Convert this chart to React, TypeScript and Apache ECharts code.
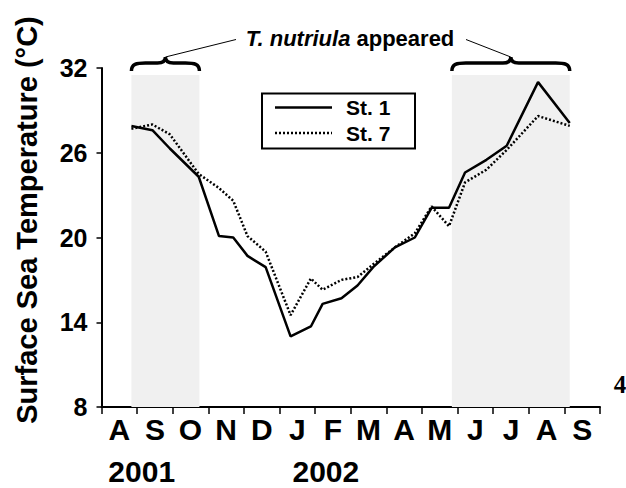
import React, { useEffect, useRef } from "react";
import * as echarts from "echarts";

// Month band labels (Aug 2001 – Sep 2002)
const monthLabels = ["A", "S", "O", "N", "D", "J", "F", "M", "A", "M", "J", "J", "A", "S"];
const yearLabels = ["2001", "2002"];
const yearLabelMonths = [1.13, 6.3];

// Sampling dates, in months since 1 Aug 2001
const sampleMonths = [0.84, 1.43, 1.92, 2.73, 3.3, 3.7, 4.1, 4.61, 5.31, 5.88, 6.21, 6.74, 7.19, 7.63, 8.24, 8.8, 9.27, 9.76, 10.21, 10.81, 11.38, 12.26, 13.15];
const st1 = [27.9, 27.6, 26.3, 24.3, 20.1, 20.0, 18.7, 17.9, 13.0, 13.7, 15.3, 15.7, 16.6, 17.9, 19.3, 20.0, 22.1, 22.1, 24.6, 25.5, 26.5, 31.0, 28.1];
const st7 = [27.7, 28.0, 27.3, 24.5, 23.5, 22.6, 20.1, 19.0, 14.5, 17.1, 16.3, 17.0, 17.2, 18.1, 19.3, 20.3, 22.2, 20.8, 23.9, 24.8, 26.2, 28.6, 27.9];
const seriesNames = ["St. 1", "St. 7"];

// Periods when T. nutriula appeared (months)
const appearedPeriods = [
  [0.84, 2.75],
  [9.84, 13.15],
];
const shadeTop = 31.5;
const yMin = 8;
const yMax = 32;
const yInterval = 6;

const FONT = "'Liberation Sans', Arial, Helvetica, sans-serif";
const DOT: number[] = [2, 2];

function bracePath(w: number, h: number, bar: number) {
  const m = w / 2;
  return (
    `M0 ${h} C0 ${bar + 1} 5 ${bar} 14 ${bar} L${m - 8} ${bar} C${m - 3} ${bar} ${m} ${bar - 2} ${m} 0 ` +
    `M${m} 0 C${m} ${bar - 2} ${m + 3} ${bar} ${m + 8} ${bar} L${w - 14} ${bar} C${w - 5} ${bar} ${w} ${bar + 1} ${w} ${h}`
  );
}

export default function App() {
  const ref = useRef<HTMLDivElement>(null);
  useEffect(() => {
    const chart = echarts.init(ref.current as HTMLDivElement, null, { renderer: "svg" });
    chart.setOption({
      animation: false,
      grid: { left: 101.5, right: 26, top: 68, bottom: 81, containLabel: false },
      xAxis: [
        { type: "value", min: 0, max: 14, show: false },
        {
          type: "category",
          data: monthLabels,
          boundaryGap: true,
          position: "bottom",
          axisLine: { show: true, lineStyle: { color: "#000", width: 2 } },
          axisTick: { show: true, length: 7, lineStyle: { color: "#000", width: 1.5 } },
          axisLabel: { color: "#000", fontSize: 30, fontWeight: "bold", fontFamily: FONT, margin: 7, interval: 0 },
          splitLine: { show: false },
        },
      ],
      yAxis: {
        type: "value",
        min: yMin,
        max: yMax,
        interval: yInterval,
        axisLine: { show: true, lineStyle: { color: "#000", width: 2 } },
        axisTick: { show: true, length: 5, lineStyle: { color: "#000", width: 1.5 } },
        axisLabel: { color: "#000", fontSize: 25, fontWeight: "bold", fontFamily: FONT, margin: 14 },
        splitLine: { show: false },
      },
      series: [
        {
          name: "shade",
          type: "line",
          data: [],
          xAxisIndex: 0,
          z: 1,
          markArea: {
            silent: true,
            itemStyle: { color: "#f0f0f0" },
            data: appearedPeriods.map(([a, b]) => [{ coord: [a, shadeTop] }, { coord: [b, yMin] }]),
          },
        },
        {
          name: seriesNames[0],
          type: "line",
          xAxisIndex: 0,
          z: 3,
          data: sampleMonths.map((m, i) => [m, st1[i]]),
          symbol: "none",
          lineStyle: { color: "#000", width: 2.5, type: "solid" },
          itemStyle: { color: "#000" },
        },
        {
          name: seriesNames[1],
          type: "line",
          xAxisIndex: 0,
          z: 3,
          data: sampleMonths.map((m, i) => [m, st7[i]]),
          symbol: "none",
          lineStyle: { color: "#000", width: 2.5, type: DOT },
          itemStyle: { color: "#000" },
        },
      ],
    });

    const px = (m: number, t: number) => chart.convertToPixel({ xAxisIndex: 0, yAxisIndex: 0 }, [m, t]) as number[];
    const graphics: any[] = [];
    const tips: number[][] = [];
    appearedPeriods.forEach(([a, b], i) => {
      const x0 = px(a, yMax)[0];
      const x1 = px(b, yMax)[0];
      const w = x1 - x0;
      const name = "brace" + i;
      echarts.graphic.registerShape(name, echarts.graphic.extendPath(bracePath(w, 14, 6), {}) as any);
      graphics.push({
        type: name,
        x: x0,
        y: 57,
        style: { fill: "none", stroke: "#000", lineWidth: 3.5 },
        z: 10,
      });
      tips.push([x0 + w / 2, 57]);
    });
    graphics.push({
      type: "line",
      shape: { x1: tips[0][0], y1: tips[0][1], x2: 236, y2: 39.5 },
      style: { stroke: "#000", lineWidth: 1 },
    });
    graphics.push({
      type: "line",
      shape: { x1: 466, y1: 39.5, x2: tips[1][0], y2: tips[1][1] },
      style: { stroke: "#000", lineWidth: 1 },
    });
    graphics.push({
      type: "text",
      x: 350,
      y: 38,
      style: {
        text: "{i|T. nutriula} {b|appeared}",
        font: `bold 22px ${FONT}`,
        fill: "#000",
        align: "center",
        verticalAlign: "middle",
        rich: {
          i: { fontStyle: "italic", fontWeight: "bold", fontSize: 22, fontFamily: FONT, fill: "#000" },
          b: { fontWeight: "bold", fontSize: 22, fontFamily: FONT, fill: "#000" },
        },
      },
    });

    // Legend box
    graphics.push({
      type: "rect",
      shape: { x: 262, y: 93.5, width: 153, height: 55 },
      style: { fill: "#fff", stroke: "#000", lineWidth: 2 },
      z: 20,
    });
    const legendRows = [107.5, 133];
    const legendDash = [null, DOT];
    seriesNames.forEach((nm, i) => {
      graphics.push({
        type: "line",
        shape: { x1: 275, y1: legendRows[i], x2: 332, y2: legendRows[i] },
        style: { stroke: "#000", lineWidth: 2.5, lineDash: legendDash[i] },
        z: 21,
      });
      graphics.push({
        type: "text",
        x: 346,
        y: legendRows[i],
        style: { text: nm, font: `bold 21px ${FONT}`, fill: "#000", align: "left", verticalAlign: "middle" },
        z: 21,
      });
    });

    yearLabels.forEach((label, i) => {
      graphics.push({
        type: "text",
        x: px(yearLabelMonths[i], yMin)[0],
        y: 471,
        style: { text: label, font: `bold 30px ${FONT}`, fill: "#000", align: "center", verticalAlign: "middle" },
      });
    });
    graphics.push({
      type: "text",
      x: 27,
      y: 220,
      rotation: Math.PI / 2,
      style: { text: "Surface Sea Temperature (°C)", font: `bold 29px ${FONT}`, fill: "#000", align: "center", verticalAlign: "middle" },
    });
    graphics.push({
      type: "text",
      x: 620,
      y: 384,
      style: { text: "4", font: `bold 25px 'Liberation Serif', 'Times New Roman', serif`, fill: "#000", align: "center", verticalAlign: "middle" },
    });
    chart.setOption({ graphic: graphics });

    return () => chart.dispose();
  }, []);
  return <div ref={ref} style={{ width: 626, height: 488, position: "absolute", left: 0, top: 0, background: "#fff" }} />;
}
